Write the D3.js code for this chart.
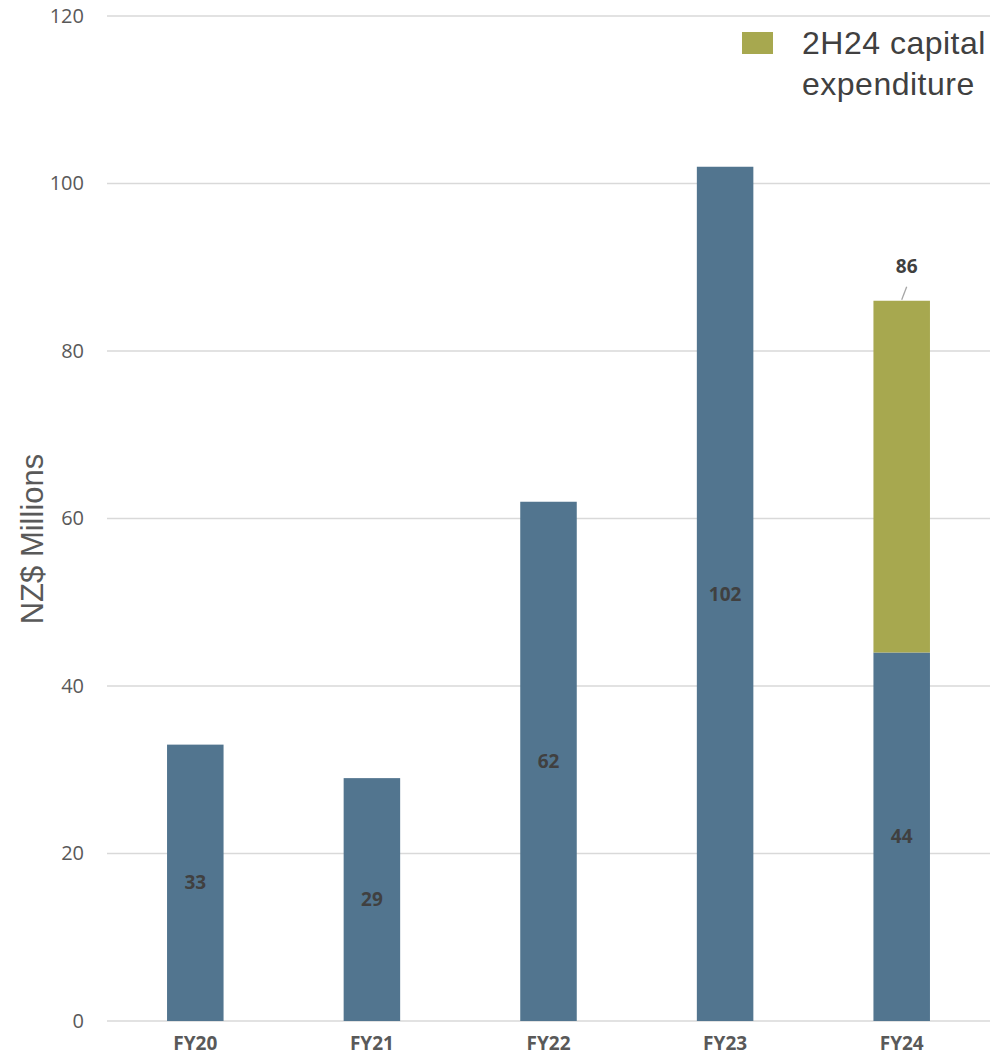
<!DOCTYPE html>
<html>
<head>
<meta charset="utf-8">
<script src="https://cdn.jsdelivr.net/npm/d3@7"></script>
<style>
  body { margin: 0; background: #fff; overflow: hidden; }
  svg { display: block; }
  #chart text { font-family: "Open Sans", "Liberation Sans", sans-serif; }
</style>
</head>
<body>
<div id="chart"></div>
<script>
// chart values
const years = ['FY20', 'FY21', 'FY22', 'FY23', 'FY24'];
const firstHalf = [33, 29, 62, 102, 44];
const secondHalf = [0, 0, 0, 0, 42];
const totalLabels = [null, null, null, null, 86];
const yTicks = [0, 20, 40, 60, 80, 100, 120];
const legendLabel = ['2H24 capital', 'expenditure'];

const width = 1007;
const height = 1062;
const margin = { top: 16, right: 17, bottom: 41, left: 107 };
const innerWidth = width - margin.left - margin.right;
const innerHeight = height - margin.top - margin.bottom;

const blue = '#52758f';
const olive = '#a7a84f';

const svg = d3
  .select('#chart')
  .append('svg')
  .attr('width', width)
  .attr('height', height);

const g = svg
  .append('g')
  .attr('transform', `translate(${margin.left},${margin.top})`);

const x = d3
  .scaleBand()
  .domain(years)
  .range([0, innerWidth])
  .paddingInner(0.68)
  .paddingOuter(0.34);

const y = d3.scaleLinear().domain([0, 120]).range([innerHeight, 0]);

// gridlines
g.selectAll('.grid')
  .data(yTicks)
  .enter()
  .append('line')
  .attr('x1', 0)
  .attr('x2', innerWidth)
  .attr('y1', (d) => y(d))
  .attr('y2', (d) => y(d))
  .style('stroke', '#d9d9d9')
  .style('stroke-width', 1.3);

// y tick labels
const yAxis = g
  .append('g')
  .call(d3.axisLeft(y).tickValues(yTicks).tickSize(0).tickPadding(23));
yAxis.select('.domain').remove();
yAxis
  .selectAll('text')
  .style('font-size', '20px')
  .style('fill', '#595959');

// x labels
const xAxis = g
  .append('g')
  .attr('transform', `translate(0,${innerHeight})`)
  .call(d3.axisBottom(x).tickSize(0).tickPadding(16));
xAxis.select('.domain').remove();
xAxis
  .selectAll('text')
  .style('font-size', '19px')
  .style('font-weight', 'bold')
  .style('fill', '#595959');

const rows = years.map((yr, i) => ({
  year: yr,
  a: firstHalf[i],
  b: secondHalf[i],
  total: totalLabels[i],
}));

// first half bars
g.selectAll('.bar-a')
  .data(rows)
  .enter()
  .append('rect')
  .attr('x', (d) => x(d.year))
  .attr('width', x.bandwidth())
  .attr('y', (d) => y(d.a))
  .attr('height', (d) => y(0) - y(d.a))
  .style('fill', blue);

// second half bars
g.selectAll('.bar-b')
  .data(rows.filter((d) => d.b > 0))
  .enter()
  .append('rect')
  .attr('x', (d) => x(d.year))
  .attr('width', x.bandwidth())
  .attr('y', (d) => y(d.a + d.b))
  .attr('height', (d) => y(d.a) - y(d.a + d.b))
  .style('fill', olive);

// values inside bars
g.selectAll('.lab-a')
  .data(rows)
  .enter()
  .append('text')
  .attr('x', (d) => x(d.year) + x.bandwidth() / 2)
  .attr('y', (d) => (y(0) + y(d.a)) / 2)
  .attr('dy', '0.35em')
  .attr('text-anchor', 'middle')
  .style('font-size', '19px')
  .style('font-weight', 'bold')
  .style('fill', '#404040')
  .text((d) => d.a);

// total labels with leader line
const tot = g
  .selectAll('.tot')
  .data(rows.filter((d) => d.total != null))
  .enter()
  .append('g');

tot
  .append('line')
  .attr('x1', (d) => x(d.year) + x.bandwidth() / 2)
  .attr('y1', (d) => y(d.total) - 1)
  .attr('x2', (d) => x(d.year) + x.bandwidth() / 2 + 5)
  .attr('y2', (d) => y(d.total) - 14)
  .style('stroke', '#a6a6a6')
  .style('stroke-width', 1.3);

tot
  .append('text')
  .attr('x', (d) => x(d.year) + x.bandwidth() / 2 + 5)
  .attr('y', (d) => y(d.total) - 34)
  .attr('dy', '0.35em')
  .attr('text-anchor', 'middle')
  .style('font-size', '19px')
  .style('font-weight', 'bold')
  .style('fill', '#404040')
  .text((d) => d.total);

// y axis title
svg
  .append('text')
  .attr('transform', 'translate(43,539) rotate(-90)')
  .attr('text-anchor', 'middle')
  .style('font-family', '"Liberation Sans", sans-serif')
  .style('font-size', '31px')
  .style('fill', '#595959')
  .text('NZ$ Millions');

// legend
const legend = svg.append('g').attr('transform', 'translate(742,32)');
legend
  .append('rect')
  .attr('width', 31)
  .attr('height', 22)
  .style('fill', olive);
legend
  .selectAll('text')
  .data(legendLabel)
  .enter()
  .append('text')
  .attr('x', 60)
  .attr('y', (d, i) => 22 + i * 41)
  .style('font-family', '"Liberation Sans", sans-serif')
  .style('font-size', '32px')
  .style('letter-spacing', '0.5px')
  .style('fill', '#404040')
  .text((d) => d);
</script>
</body>
</html>
